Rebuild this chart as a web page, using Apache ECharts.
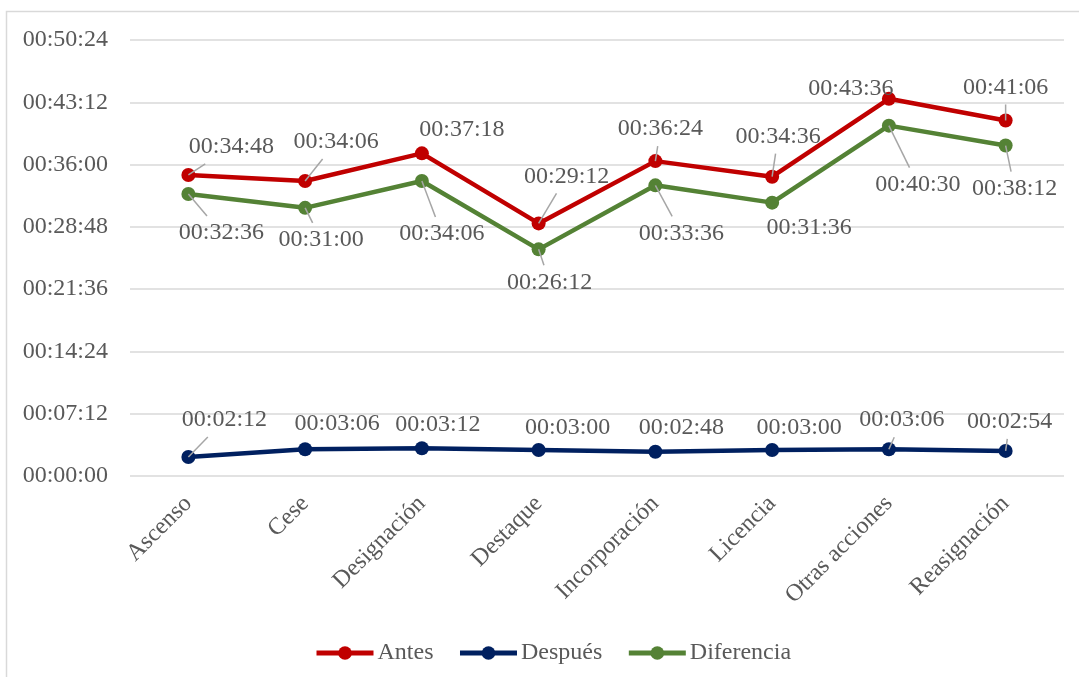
<!DOCTYPE html>
<html>
<head>
<meta charset="utf-8">
<script src="https://cdn.jsdelivr.net/npm/echarts@6/dist/echarts.min.js"></script>
<style>
  html, body { margin: 0; padding: 0; background: #ffffff; }
  #chart { width: 1079px; height: 677px; }
</style>
</head>
<body>
<div id="chart"></div>
<script>
// Tiempo promedio por tipo de acción (hh:mm:ss)
const categories = ['Ascenso', 'Cese', 'Designación', 'Destaque', 'Incorporación', 'Licencia', 'Otras acciones', 'Reasignación'];
const antes      = ['00:34:48', '00:34:06', '00:37:18', '00:29:12', '00:36:24', '00:34:36', '00:43:36', '00:41:06'];
const despues    = ['00:02:12', '00:03:06', '00:03:12', '00:03:00', '00:02:48', '00:03:00', '00:03:06', '00:02:54'];
const diferencia = ['00:32:36', '00:31:00', '00:34:06', '00:26:12', '00:33:36', '00:31:36', '00:40:30', '00:38:12'];
const yTicks     = ['00:00:00', '00:07:12', '00:14:24', '00:21:36', '00:28:48', '00:36:00', '00:43:12', '00:50:24'];

// Label placement relative to each point: [dx, dy, leader line drawn (1/0)]
const offsetsAntes      = [[43, -28, 1], [31, -39, 1], [40, -24, 0], [28, -47, 1], [5, -32, 1], [6, -40, 1], [-38, -10, 0], [0, -33, 1]];
const offsetsDespues    = [[36, -37, 1], [32, -25, 0], [16, -24, 0], [29, -22, 0], [26, -24, 0], [27, -22, 0], [13, -29, 1], [4, -29, 1]];
const offsetsDiferencia = [[33, 39, 1], [16, 32, 1], [20, 53, 1], [11, 33, 1], [26, 48, 1], [37, 25, 0], [29, 59, 1], [9, 43, 1]];

function toSeconds(t) {
  const p = t.split(':').map(Number);
  return p[0] * 3600 + p[1] * 60 + p[2];
}
function toClock(s) {
  const h = Math.floor(s / 3600), m = Math.floor((s % 3600) / 60), sec = Math.round(s % 60);
  return [h, m, sec].map(v => String(v).padStart(2, '0')).join(':');
}

const tickSeconds = yTicks.map(toSeconds);
const step = tickSeconds[1] - tickSeconds[0];
const FONT = '"Liberation Serif", "Times New Roman", serif';
const TEXT = '#595959';
const LABEL_HALF_W = 46;
const LABEL_HALF_H = 17;

function makeSeries(name, values, color, offsets) {
  return {
    name: name,
    type: 'line',
    data: values.map(toSeconds),
    symbol: 'circle',
    symbolSize: 14,
    lineStyle: { width: 4.5, color: color },
    itemStyle: { color: color },
    z: 3,
    label: {
      show: true,
      formatter: p => toClock(p.value),
      fontFamily: FONT,
      fontSize: 24,
      color: TEXT
    },
    labelLayout: function (params) {
      const o = offsets[params.dataIndex];
      const cx = params.rect.x + params.rect.width / 2;
      const cy = params.rect.y + params.rect.height / 2;
      return { x: cx + o[0], y: cy + o[1], align: 'center', verticalAlign: 'middle' };
    },
    emphasis: { disabled: true }
  };
}

// Leader lines: from the point toward its label, stopping at the label box
function makeLeaders(values, offsets) {
  return {
    type: 'custom',
    data: values.map((v, i) => [i, toSeconds(v)]),
    z: 4,
    silent: true,
    renderItem: function (params, api) {
      const i = api.value(0);
      const o = offsets[i];
      if (!o[2]) return null;
      const p = api.coord([i, api.value(1)]);
      const dx = o[0], dy = o[1];
      const t = Math.min(
        dx === 0 ? Infinity : LABEL_HALF_W / Math.abs(dx),
        dy === 0 ? Infinity : LABEL_HALF_H / Math.abs(dy)
      );
      if (t >= 1) return null;
      return {
        type: 'line',
        shape: { x1: p[0], y1: p[1], x2: p[0] + dx * (1 - t), y2: p[1] + dy * (1 - t) },
        style: { stroke: '#a6a6a6', lineWidth: 1.5 }
      };
    }
  };
}

const chart = echarts.init(document.getElementById('chart'), null, { renderer: 'canvas' });
chart.setOption({
  animation: false,
  backgroundColor: '#ffffff',
  textStyle: { fontFamily: FONT },
  graphic: [{
    type: 'rect',
    shape: { x: 6.5, y: 11.5, width: 1090, height: 700 },
    style: { fill: 'none', stroke: '#d9d9d9', lineWidth: 1.5 },
    silent: true,
    z: -10
  }],
  grid: { left: 130, right: 15, top: 40, bottom: 201, containLabel: false },
  legend: {
    left: 314,
    top: 641,
    padding: 0,
    itemWidth: 57,
    itemHeight: 17,
    itemGap: 24,
    lineStyle: { width: 5 },
    textStyle: { fontFamily: FONT, fontSize: 24, color: TEXT, padding: [0, 0, 0, -1] },
    data: ['Antes', 'Después', 'Diferencia']
  },
  xAxis: {
    type: 'category',
    data: categories,
    boundaryGap: true,
    axisLine: { show: false },
    axisTick: { show: false },
    axisLabel: {
      rotate: 45,
      margin: 24,
      interval: 0,
      fontFamily: FONT,
      fontSize: 24,
      color: TEXT
    }
  },
  yAxis: {
    type: 'value',
    min: tickSeconds[0],
    max: tickSeconds[tickSeconds.length - 1],
    interval: step,
    axisLine: { show: false },
    axisTick: { show: false },
    splitLine: { lineStyle: { color: '#d9d9d9', width: 1.5 } },
    axisLabel: {
      margin: 22,
      formatter: v => toClock(v),
      fontFamily: FONT,
      fontSize: 24,
      color: TEXT
    }
  },
  series: [
    makeSeries('Antes', antes, '#c00000', offsetsAntes),
    makeSeries('Después', despues, '#002060', offsetsDespues),
    makeSeries('Diferencia', diferencia, '#548235', offsetsDiferencia),
    makeLeaders(antes, offsetsAntes),
    makeLeaders(despues, offsetsDespues),
    makeLeaders(diferencia, offsetsDiferencia)
  ]
});
</script>
</body>
</html>
